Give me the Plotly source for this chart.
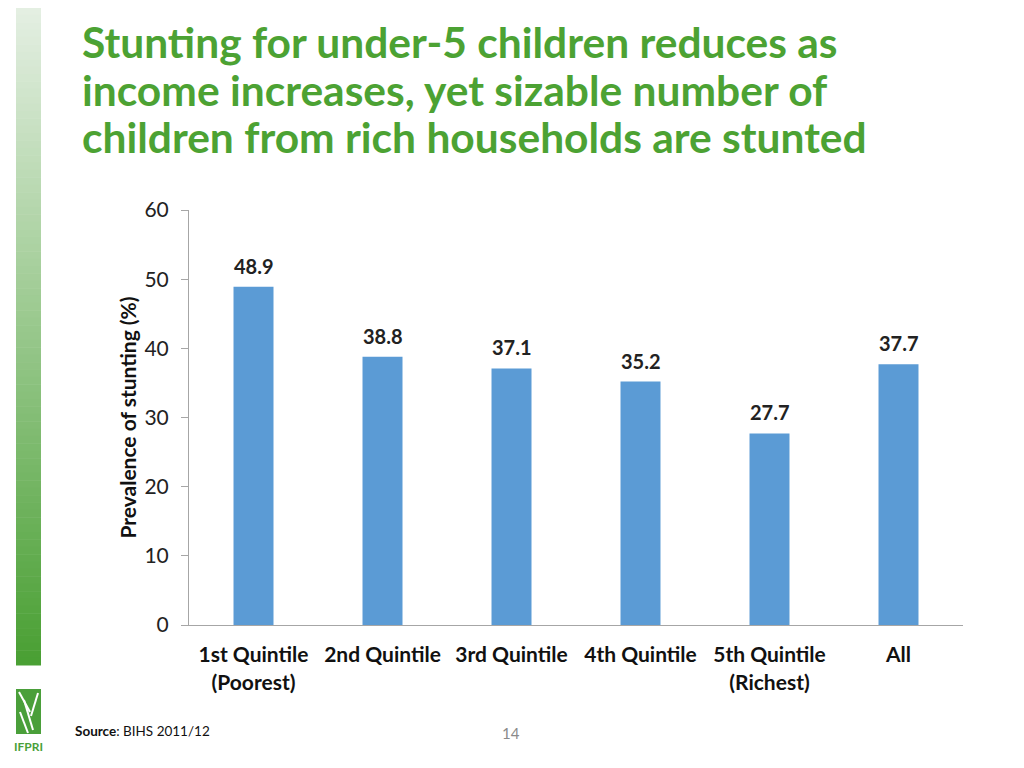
import plotly.graph_objects as go

categories = ["1st Quintile<br>(Poorest)", "2nd Quintile", "3rd Quintile", "4th Quintile", "5th Quintile<br>(Richest)", "All"]
values = [48.9, 38.8, 37.1, 35.2, 27.7, 37.7]
y_ticks = [0, 10, 20, 30, 40, 50, 60]
title_lines = ["Stunting for under-5 children reduces as",
               "income increases, yet sizable number of",
               "children from rich households are stunted"]

OFF = 8  # page body margin
W, H = 1016, 760
# plot area in screen pixels
L, R, T, B = 189, 963, 210, 625

def px(x):
    return (x - L) / (R - L)

def py(y):
    return (B - y) / (B - T)

fig = go.Figure()
fig.add_trace(go.Bar(
    x=categories, y=values,
    marker=dict(color="#5b9bd5", line=dict(width=0)),
))

shapes = []
n = 90
top_c = (230, 240, 228)
bot_c = (74, 160, 52)
for i in range(n):
    t = i / (n - 1)
    c = tuple(int(top_c[k] + (bot_c[k] - top_c[k]) * t) for k in range(3))
    y0 = 665 * i / n
    y1 = 665 * (i + 1) / n + 0.5
    shapes.append(dict(type="rect", xref="paper", yref="paper",
                       x0=px(16), x1=px(41), y0=py(y1), y1=py(y0),
                       fillcolor=f"rgb{c}", line=dict(width=0), layer="below"))
# logo block
shapes.append(dict(type="rect", xref="paper", yref="paper",
                   x0=px(16), x1=px(41), y0=py(734), y1=py(689),
                   fillcolor="#4a9f3a", line=dict(width=0)))
for (xa, ya, xb, yb) in [(19, 692, 30, 712), (24, 700, 33, 730), (38, 693, 31, 716), (20, 712, 28, 733)]:
    shapes.append(dict(type="line", xref="paper", yref="paper",
                       x0=px(xa), y0=py(ya), x1=px(xb), y1=py(yb),
                       line=dict(color="white", width=2)))

annotations = []
for c, v in zip(categories, values):
    annotations.append(dict(text=f"{v:.1f}", x=c, y=v, xref="x", yref="y",
                            xanchor="center", yanchor="bottom", yshift=7,
                            showarrow=False,
                            font=dict(family="Lato", size=20, color="#222222", weight="bold")))
for i, line in enumerate(title_lines):
    annotations.append(dict(text=line, xref="paper", yref="paper",
                            x=px(80), y=py(41 + 48 * i), xanchor="left", yanchor="middle",
                            showarrow=False,
                            font=dict(family="Lato", size=42.5, color="#4ca233", weight="bold")))
annotations += [
    dict(text="<b>Source</b>: BIHS 2011/12", xref="paper", yref="paper",
         x=px(73), y=py(731), xanchor="left", yanchor="middle", showarrow=False,
         font=dict(family="Lato", size=13.5, color="#111111")),
    dict(text="14", xref="paper", yref="paper", x=px(511), y=py(733),
         xanchor="center", yanchor="middle", showarrow=False,
         font=dict(family="Lato", size=15, color="#8a8a8a")),
    dict(text="IFPRI", xref="paper", yref="paper", x=px(28.5), y=py(746),
         xanchor="center", yanchor="middle", showarrow=False,
         font=dict(family="Lato", size=12, color="#4a9f3a", weight="bold")),
]

fig.update_layout(
    width=W, height=H,
    margin=dict(l=L - OFF, r=W - (R - OFF), t=T - OFF, b=H - (B - OFF)),
    paper_bgcolor="white", plot_bgcolor="white",
    bargap=0.69,
    showlegend=False,
    shapes=shapes,
    annotations=annotations,
    xaxis=dict(showline=True, linecolor="#a6a6a6", linewidth=1, ticks="",
               tickfont=dict(family="Lato", size=21, color="#111111", weight="bold"),
               ticklabelstandoff=11,
               showgrid=False, fixedrange=True),
    yaxis=dict(range=[0, 60], tickvals=y_ticks, showline=True, linecolor="#a6a6a6",
               linewidth=1, ticks="outside", ticklen=7, tickcolor="#a6a6a6",
               tickfont=dict(family="Lato", size=21, color="#222222"),
               ticklabelstandoff=8,
               showgrid=False, zeroline=False,
               title=dict(text="<b>Prevalence of stunting (%)</b>", standoff=2,
                          font=dict(family="Lato", size=21, color="#111111"))),
)

fig.write_html("out.html")
